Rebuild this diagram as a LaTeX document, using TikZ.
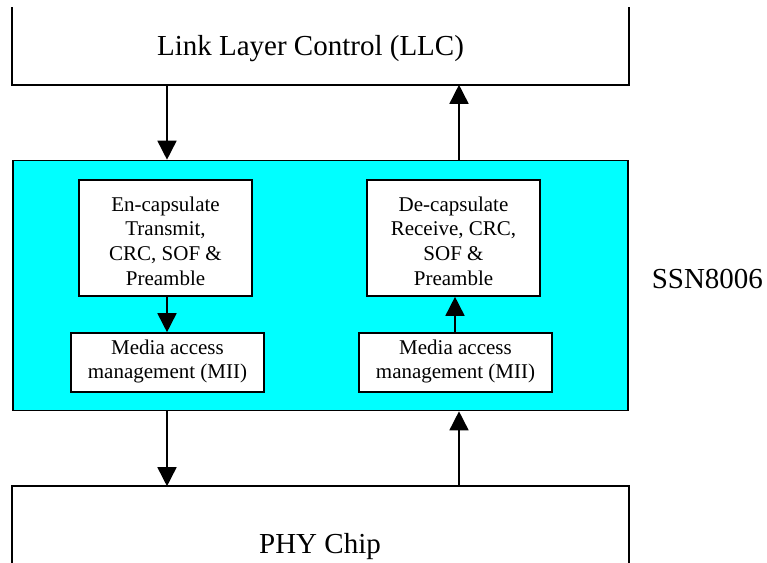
\documentclass[tikz,border=0pt]{standalone}
\usepackage{fontspec}
\setmainfont{Liberation Serif}
\usetikzlibrary{arrows.meta}
\definecolor{aquafill}{RGB}{0,255,255}
\begin{document}
\begin{tikzpicture}[x=1pt,y=-1pt,line width=1.6pt,
  arr/.style={-{Triangle[length=19pt,width=19pt]}},
  bigtext/.style={font=\fontsize{29}{34}\selectfont},
  smalltext/.style={font=\fontsize{21}{24.7}\selectfont,align=center,inner sep=0pt},
  wbox/.style={draw,fill=white,inner sep=0pt}]
\useasboundingbox (0,0) rectangle (767,562);
% LLC (open at the top)
\node[minimum width=615pt,minimum height=76pt,inner sep=0pt] (llc) at (320.5,46) {};
\draw (llc.north west) -- (llc.south west) -- (llc.south east) -- (llc.north east);
\node[bigtext,anchor=base] (llctext) at (310.5,55) {Link Layer Control (LLC)};
% PHY (open at the bottom)
\node[minimum width=615pt,minimum height=80pt,inner sep=0pt] (phy) at (320.5,527) {};
\draw (phy.south west) -- (phy.north west) -- (phy.north east) -- (phy.south east);
\node[bigtext,anchor=base] (phytext) at (320,553) {PHY Chip};
% SSN8006 block
\node[draw,fill=aquafill,minimum width=615pt,minimum height=250pt,inner sep=0pt] (ssn) at (320.5,285.5) {};
\node[bigtext,anchor=base west,inner sep=0pt] (ssnlabel) at (651,288) {SSN8006};
% inner boxes
\node[wbox,minimum width=173pt,minimum height=116pt] (enc) at (165.5,238) {};
\node[smalltext] (enctext) at ([yshift=-3pt]enc.center) {En-capsulate\\Transmit,\\CRC, SOF \&\\Preamble};
\node[wbox,minimum width=193pt,minimum height=59pt] (mii1) at (167.5,362.5) {};
\node[smalltext] (mii1text) at ([yshift=1pt]mii1.center) {Media access\\management (MII)};
\node[wbox,minimum width=173pt,minimum height=116pt] (dec) at (453.5,238) {};
\node[smalltext] (dectext) at ([yshift=-3pt]dec.center) {De-capsulate\\Receive, CRC,\\SOF \&\\Preamble};
\node[wbox,minimum width=193pt,minimum height=59pt] (mii2) at (455.5,362.5) {};
\node[smalltext] (mii2text) at ([yshift=1pt]mii2.center) {Media access\\management (MII)};
% arrow positions
\coordinate (xl) at (167,0);
\coordinate (xr) at (459,0);
\coordinate (xil) at (167,0);
\coordinate (xir) at (455,0);
% connectors
\draw[arr] (llc.south -| xl) -- (ssn.north -| xl);
\draw[arr] (ssn.north -| xr) -- (llc.south -| xr);
\draw[arr] (enc.south -| xil) -- (mii1.north -| xil);
\draw[arr] (mii2.north -| xir) -- (dec.south -| xir);
\draw[arr] (ssn.south -| xl) -- (phy.north -| xl);
\draw[arr] (phy.north -| xr) -- (ssn.south -| xr);
\end{tikzpicture}
\end{document}
